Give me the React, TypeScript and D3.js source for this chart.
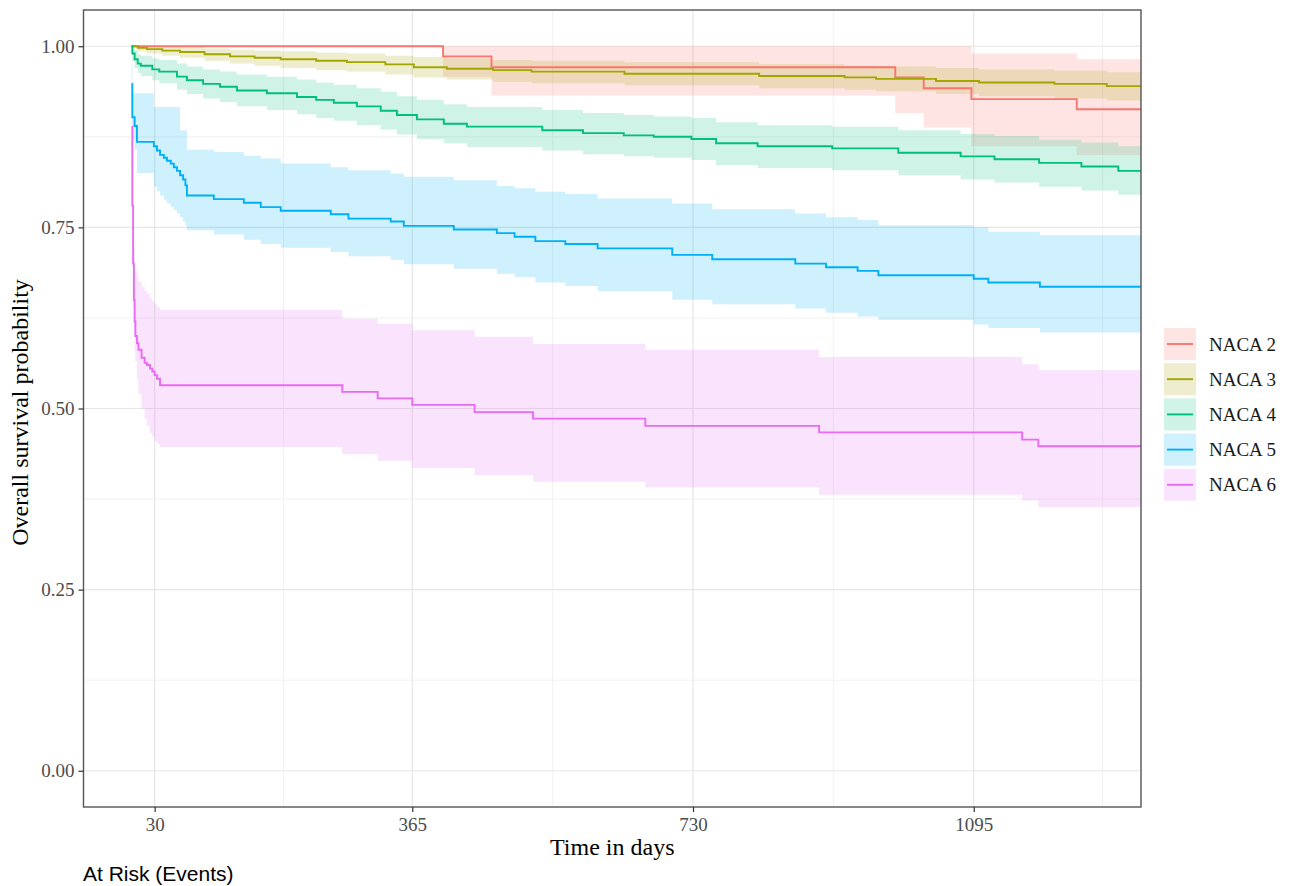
import React, { useEffect, useRef } from "react";
import * as d3 from "d3";

const groups = ["NACA 2", "NACA 3", "NACA 4", "NACA 5", "NACA 6"];
const colors = ["#F8766D", "#A3A500", "#00BF7D", "#00B0F6", "#E76BF3"];

const xTicks = [30, 365, 730, 1095];
const xMinor = [197.5, 547.5, 912.5, 1262.5];
const yTicks = [0, 0.25, 0.5, 0.75, 1];
const yMinor = [0.125, 0.375, 0.625, 0.875];
const xLimits = [0, 1250];
const followUpEnd = 1330;

// rows: [time, survival, upper CI, lower CI]
const naca2 = [
  [0, 1, 1, 1],
  [405, 0.986, 1.0, 0.958],
  [468, 0.971, 1.0, 0.932],
  [993, 0.957, 1.0, 0.908],
  [1030, 0.942, 1.0, 0.888],
  [1092, 0.927, 0.99, 0.862],
  [1229, 0.913, 0.982, 0.85],
];

const naca3 = [
  [0, 1, 1, 1],
  [8, 0.998, 1, 0.993],
  [20, 0.996, 1, 0.99],
  [40, 0.994, 1, 0.987],
  [63, 0.992, 0.999, 0.984],
  [95, 0.989, 0.997, 0.98],
  [128, 0.986, 0.995, 0.976],
  [160, 0.984, 0.994, 0.973],
  [194, 0.982, 0.993, 0.97],
  [240, 0.98, 0.991, 0.967],
  [280, 0.978, 0.99, 0.965],
  [330, 0.975, 0.987, 0.961],
  [367, 0.971, 0.985, 0.957],
  [410, 0.969, 0.983, 0.954],
  [470, 0.967, 0.981, 0.951],
  [520, 0.965, 0.98, 0.949],
  [641, 0.962, 0.978, 0.946],
  [816, 0.959, 0.975, 0.942],
  [927, 0.957, 0.973, 0.94],
  [968, 0.955, 0.972, 0.938],
  [1046, 0.952, 0.97, 0.934],
  [1102, 0.95, 0.968, 0.931],
  [1200, 0.948, 0.966, 0.928],
  [1268, 0.945, 0.964, 0.925],
];

const naca4 = [
  [0, 1, 1, 1],
  [1, 0.99, 1.0, 0.979],
  [4, 0.982, 0.994, 0.97],
  [8, 0.976, 0.989, 0.963],
  [12, 0.973, 0.987, 0.959],
  [27, 0.968, 0.983, 0.953],
  [36, 0.965, 0.981, 0.949],
  [59, 0.958, 0.976, 0.94],
  [72, 0.953, 0.972, 0.934],
  [93, 0.948, 0.968, 0.928],
  [115, 0.944, 0.965, 0.923],
  [137, 0.939, 0.961, 0.917],
  [176, 0.935, 0.958, 0.912],
  [215, 0.93, 0.954, 0.906],
  [240, 0.926, 0.95, 0.901],
  [263, 0.922, 0.947, 0.897],
  [293, 0.917, 0.942, 0.891],
  [324, 0.911, 0.937, 0.885],
  [345, 0.905, 0.931, 0.878],
  [371, 0.899, 0.926, 0.872],
  [406, 0.893, 0.92, 0.866],
  [436, 0.889, 0.916, 0.861],
  [534, 0.884, 0.912, 0.856],
  [587, 0.88, 0.908, 0.851],
  [640, 0.877, 0.905, 0.848],
  [679, 0.875, 0.903, 0.846],
  [728, 0.872, 0.901, 0.843],
  [760, 0.866, 0.895, 0.836],
  [814, 0.862, 0.891, 0.832],
  [911, 0.859, 0.889, 0.829],
  [997, 0.853, 0.884, 0.822],
  [1078, 0.848, 0.879, 0.816],
  [1122, 0.844, 0.876, 0.812],
  [1180, 0.839, 0.871, 0.806],
  [1235, 0.834, 0.867, 0.801],
  [1283, 0.828, 0.862, 0.795],
];

const naca5 = [
  [0, 0.948, 0.975, 0.921],
  [1, 0.902, 0.935, 0.87],
  [4, 0.89, 0.935, 0.857],
  [7, 0.868, 0.935, 0.825],
  [29, 0.862, 0.916, 0.806],
  [33, 0.856, 0.916, 0.8],
  [37, 0.85, 0.916, 0.794],
  [42, 0.846, 0.916, 0.788],
  [46, 0.842, 0.916, 0.783],
  [51, 0.838, 0.916, 0.778],
  [55, 0.833, 0.916, 0.774],
  [59, 0.828, 0.916, 0.769],
  [63, 0.822, 0.884, 0.764],
  [67, 0.816, 0.884, 0.758],
  [70, 0.808, 0.884, 0.753],
  [72, 0.794, 0.857, 0.746],
  [107, 0.789, 0.854, 0.74],
  [146, 0.784, 0.849, 0.733],
  [168, 0.778, 0.845, 0.727],
  [194, 0.773, 0.838, 0.722],
  [259, 0.768, 0.833, 0.716],
  [282, 0.762, 0.829, 0.71],
  [337, 0.758, 0.824, 0.705],
  [354, 0.752, 0.82, 0.699],
  [419, 0.747, 0.815, 0.693],
  [475, 0.742, 0.807, 0.686],
  [498, 0.737, 0.804, 0.681],
  [525, 0.731, 0.799, 0.674],
  [564, 0.727, 0.796, 0.669],
  [606, 0.721, 0.79, 0.662],
  [703, 0.712, 0.783, 0.65],
  [755, 0.706, 0.775, 0.644],
  [863, 0.7, 0.769, 0.638],
  [903, 0.695, 0.764, 0.632],
  [944, 0.69, 0.76, 0.627],
  [971, 0.684, 0.753, 0.622],
  [1095, 0.679, 0.75, 0.616],
  [1114, 0.674, 0.744, 0.611],
  [1181, 0.668, 0.739, 0.605],
];

const naca6 = [
  [0, 0.889, 0.945, 0.835],
  [1, 0.78, 0.85, 0.72],
  [2, 0.7, 0.77, 0.64],
  [3, 0.65, 0.72, 0.6],
  [4, 0.62, 0.7, 0.58],
  [5, 0.6, 0.69, 0.565],
  [7, 0.59, 0.685, 0.54],
  [9, 0.581, 0.675, 0.52],
  [13, 0.57, 0.668, 0.5],
  [17, 0.563, 0.662, 0.485],
  [20, 0.56, 0.658, 0.476],
  [24, 0.555, 0.652, 0.466],
  [27, 0.551, 0.648, 0.461],
  [30, 0.546, 0.644, 0.455],
  [33, 0.541, 0.64, 0.451],
  [37, 0.532, 0.636, 0.447],
  [274, 0.523, 0.624, 0.437],
  [320, 0.514, 0.617, 0.428],
  [365, 0.505, 0.608, 0.418],
  [446, 0.495, 0.599, 0.408],
  [522, 0.486, 0.589, 0.399],
  [668, 0.476, 0.581, 0.391],
  [894, 0.467, 0.571, 0.381],
  [1158, 0.457, 0.561, 0.373],
  [1179, 0.448, 0.553, 0.364],
];

const curves = [naca2, naca3, naca4, naca5, naca6];

const SERIF = "'Liberation Serif', 'Times New Roman', serif";
const SANS = "'Liberation Sans', Arial, sans-serif";

const App = () => {
  const svgRef = useRef(null);

  useEffect(() => {
    drawChart();
  }, []);

  const drawChart = () => {
    const width = 1295;
    const height = 886;
    const panel = { left: 83.5, right: 1141, top: 10, bottom: 807 };

    const svg = d3.select(svgRef.current).attr("width", width).attr("height", height);
    svg.selectAll("*").remove();

    const pad = (xLimits[1] - xLimits[0]) * 0.05;
    const x = d3
      .scaleLinear()
      .domain([xLimits[0] - pad, xLimits[1] + pad])
      .range([panel.left, panel.right]);
    const y = d3.scaleLinear().domain([-0.05, 1.05]).range([panel.bottom, panel.top]);

    svg
      .append("defs")
      .append("clipPath")
      .attr("id", "panel-clip")
      .append("rect")
      .attr("x", panel.left)
      .attr("y", panel.top)
      .attr("width", panel.right - panel.left)
      .attr("height", panel.bottom - panel.top);

    // grid
    const grid = svg.append("g");
    grid
      .selectAll(".xminor")
      .data(xMinor)
      .join("line")
      .attr("x1", (d) => x(d))
      .attr("x2", (d) => x(d))
      .attr("y1", panel.top)
      .attr("y2", panel.bottom)
      .attr("stroke", "#efefef")
      .attr("stroke-width", 0.9);
    grid
      .selectAll(".yminor")
      .data(yMinor)
      .join("line")
      .attr("x1", panel.left)
      .attr("x2", panel.right)
      .attr("y1", (d) => y(d))
      .attr("y2", (d) => y(d))
      .attr("stroke", "#efefef")
      .attr("stroke-width", 0.9);
    grid
      .selectAll(".xmajor")
      .data(xTicks)
      .join("line")
      .attr("x1", (d) => x(d))
      .attr("x2", (d) => x(d))
      .attr("y1", panel.top)
      .attr("y2", panel.bottom)
      .attr("stroke", "#e6e6e6")
      .attr("stroke-width", 1.2);
    grid
      .selectAll(".ymajor")
      .data(yTicks)
      .join("line")
      .attr("x1", panel.left)
      .attr("x2", panel.right)
      .attr("y1", (d) => y(d))
      .attr("y2", (d) => y(d))
      .attr("stroke", "#e6e6e6")
      .attr("stroke-width", 1.2);

    const withEnd = (rows) => [...rows, [followUpEnd, ...rows[rows.length - 1].slice(1)]];

    const ribbon = d3
      .area()
      .x((d) => x(d[0]))
      .y0((d) => y(d[3]))
      .y1((d) => y(d[2]))
      .curve(d3.curveStepAfter);

    const line = d3
      .line()
      .x((d) => x(d[0]))
      .y((d) => y(d[1]))
      .curve(d3.curveStepAfter);

    const plot = svg.append("g").attr("clip-path", "url(#panel-clip)");

    curves.forEach((rows, i) => {
      plot
        .append("path")
        .attr("d", ribbon(withEnd(rows)))
        .attr("fill", colors[i])
        .attr("fill-opacity", 0.19)
        .attr("stroke", "none");
    });

    curves.forEach((rows, i) => {
      plot
        .append("path")
        .attr("d", line(withEnd(rows)))
        .attr("fill", "none")
        .attr("stroke", colors[i])
        .attr("stroke-width", 1.9);
    });

    // panel border
    svg
      .append("rect")
      .attr("x", panel.left)
      .attr("y", panel.top)
      .attr("width", panel.right - panel.left)
      .attr("height", panel.bottom - panel.top)
      .attr("fill", "none")
      .attr("stroke", "#555555")
      .attr("stroke-width", 1.4);

    // axes
    const styleAxis = (g) => {
      g.select(".domain").remove();
      g.selectAll(".tick line").attr("stroke", "#333333").attr("stroke-width", 1.2);
      g.selectAll(".tick text")
        .attr("fill", "#4d4d4d")
        .style("font-family", SERIF)
        .style("font-size", "19px");
    };

    svg
      .append("g")
      .attr("transform", `translate(0,${panel.bottom})`)
      .call(d3.axisBottom(x).tickValues(xTicks).tickSize(5).tickPadding(5.5).tickFormat(d3.format("d")))
      .call(styleAxis);

    svg
      .append("g")
      .attr("transform", `translate(${panel.left},0)`)
      .call(d3.axisLeft(y).tickValues(yTicks).tickSize(5).tickPadding(4).tickFormat(d3.format(".2f")))
      .call(styleAxis);

    // X-axis title
    svg
      .append("text")
      .attr("x", (panel.left + panel.right) / 2)
      .attr("y", 855)
      .attr("text-anchor", "middle")
      .style("font-family", SERIF)
      .style("font-size", "24px")
      .attr("fill", "#000")
      .text("Time in days");

    // Y-axis title
    svg
      .append("text")
      .attr("transform", `translate(28,${(panel.top + panel.bottom) / 2 + 4}) rotate(-90)`)
      .attr("text-anchor", "middle")
      .style("font-family", SERIF)
      .style("font-size", "24px")
      .attr("fill", "#000")
      .text("Overall survival probability");

    // legend
    const legend = svg.append("g").attr("transform", "translate(1164,328)");
    groups.forEach((name, i) => {
      const key = legend.append("g").attr("transform", `translate(0,${i * 35.2})`);
      key
        .append("rect")
        .attr("width", 32)
        .attr("height", 32)
        .attr("fill", colors[i])
        .attr("fill-opacity", 0.19);
      key
        .append("line")
        .attr("x1", 3)
        .attr("x2", 29)
        .attr("y1", 16)
        .attr("y2", 16)
        .attr("stroke", colors[i])
        .attr("stroke-width", 1.9);
      key
        .append("text")
        .attr("x", 45)
        .attr("y", 16)
        .attr("dy", "0.35em")
        .style("font-family", SERIF)
        .style("font-size", "19px")
        .attr("fill", "#1a1a1a")
        .text(name);
    });

    // risk table header
    svg
      .append("text")
      .attr("x", 83)
      .attr("y", 881)
      .style("font-family", SANS)
      .style("font-size", "21px")
      .attr("fill", "#000")
      .text("At Risk (Events)");
  };

  return <svg ref={svgRef} style={{ position: "absolute", left: 0, top: 0 }}></svg>;
};

export default App;
